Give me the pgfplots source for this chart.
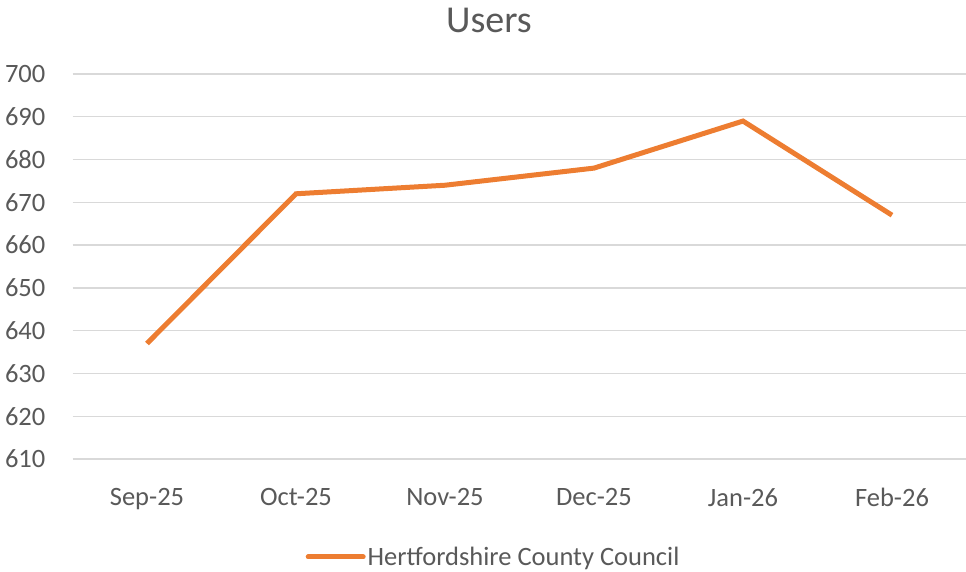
\documentclass[border=0pt]{standalone}
\usepackage{pgfplots}
\pgfplotsset{compat=1.18}
\usepackage{fontspec}
\setmainfont{Carlito}
\definecolor{txt}{HTML}{595959}
\definecolor{grd}{HTML}{D9D9D9}
\definecolor{org}{HTML}{ED7D31}
\begin{document}
\begin{tikzpicture}
\begin{axis}[
  at={(72.5bp,113bp)}, anchor=south west,
  scale only axis, width=894bp, height=385bp,
  xmin=-0.5, xmax=5.5, ymin=610, ymax=700,
  ytick={610,620,...,700},
  xtick={0,...,5},
  xticklabels={Sep-25,Oct-25,Nov-25,Dec-25,Jan-26,Feb-26},
  axis line style={draw=none},
  major tick length=0pt,
  ymajorgrids, grid style={grd, line width=1.4bp},
  tick label style={text=txt, font=\fontsize{26.5bp}{30bp}\selectfont, inner sep=0pt},
  /pgf/number format/assume math mode=true,
  yticklabel style={anchor=east, xshift=-27bp},
  xticklabel style={anchor=north, yshift=-29bp},
  legend style={at={(0.471,-0.2545)}, anchor=center, draw=none, fill=none,
    font=\fontsize{26.5bp}{30bp}\selectfont, text=txt, inner sep=0pt,
    nodes={inner sep=2bp}},
  legend image code/.code={\draw[#1, line cap=round] (0bp,0bp) -- (55bp,0bp);},
]
\addplot[org, line width=5bp, line join=miter, line cap=butt] coordinates {
(0,637) (1,672) (2,674) (3,678) (4,689) (5,667)};
\addlegendentry{Hertfordshire County Council}
\end{axis}
\node[text=txt, font=\fontsize{38bp}{42bp}\selectfont, inner sep=0pt] at (489bp,552bp) {Users};
\pgfresetboundingbox
\path[use as bounding box] (0,0) rectangle (966bp,572bp);
\end{tikzpicture}
\end{document}
